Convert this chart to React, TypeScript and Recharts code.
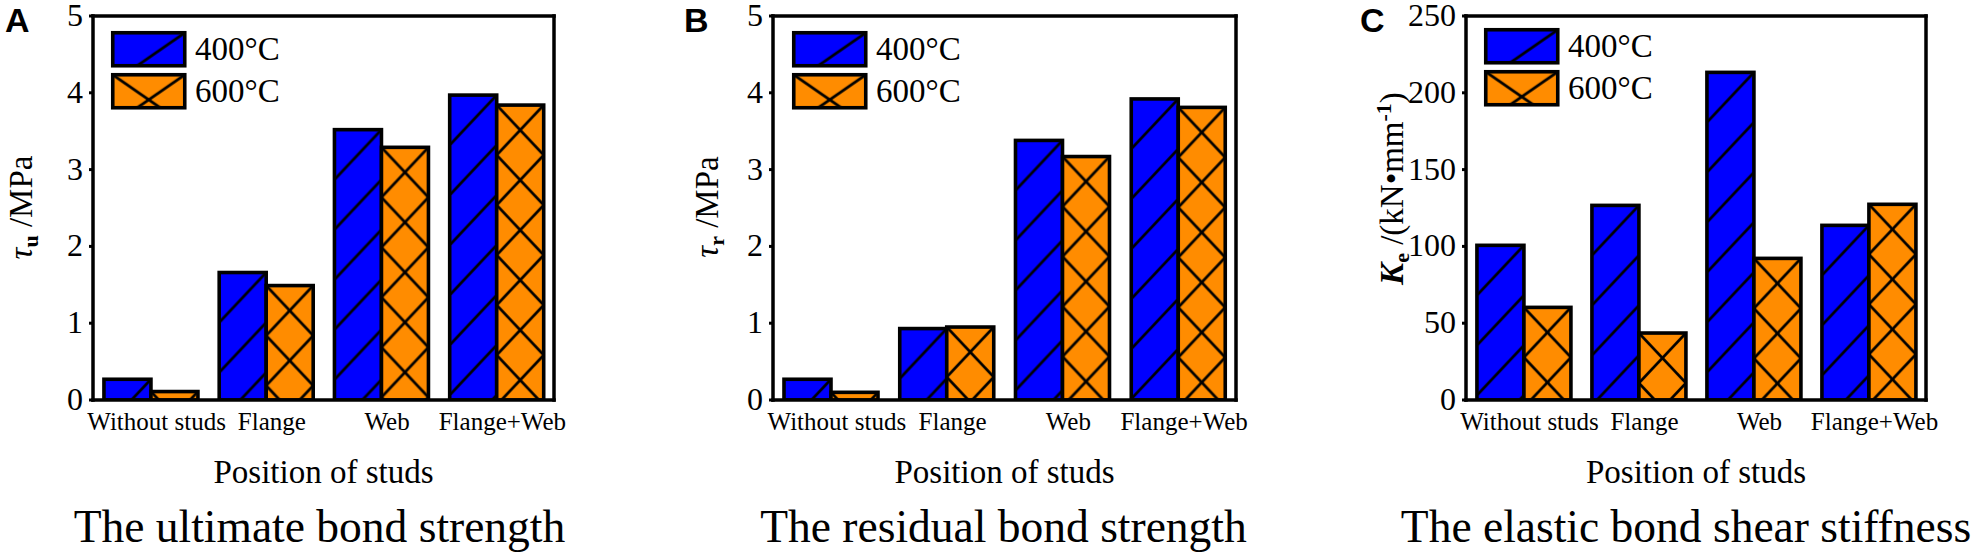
import React from "react";
import { BarChart, Bar, XAxis, YAxis, Legend, Label, CartesianGrid } from "recharts";

const categories = ["Without studs", "Flange", "Web", "Flange+Web"];
const seriesNames = ["400°C", "600°C"];

const ultimate400 = [0.27, 1.66, 3.52, 3.97];
const ultimate600 = [0.11, 1.49, 3.29, 3.84];
const residual400 = [0.27, 0.93, 3.38, 3.92];
const residual600 = [0.1, 0.95, 3.17, 3.81];
const stiffness400 = [100.7, 126.7, 213.3, 113.7];
const stiffness600 = [60.3, 43.6, 92.2, 127.4];

const strengthTicks = [0, 1, 2, 3, 4, 5];
const stiffnessTicks = [0, 50, 100, 150, 200, 250];

const titles = [
  "The ultimate bond strength",
  "The residual bond strength",
  "The elastic bond shear stiffness",
];
const xAxisTitle = "Position of studs";

const BLUE = "#0000ff";
const ORANGE = "#ff8c00";
const SERIF = "'Liberation Serif', 'Times New Roman', serif";
const SANS = "'Liberation Sans', Arial, sans-serif";
const serifStyle = { fontFamily: SERIF };
const axisStyle = { stroke: "#000", strokeWidth: 3.5, strokeLinecap: "square" as const };

function toRows(a: number[], b: number[]) {
  return categories.map((name, i) => ({ name, t400: a[i], t600: b[i] }));
}

// rectangle filled with a colour and a hatch tile that starts at its top-left corner
function HatchRect({ id, x, y, width, height, fill, cross }: any) {
  if (!width || !height || width <= 0 || height <= 0) return null;
  const w = width;
  const h = 50;
  const shifts = [-w, 0, w];
  return (
    <g>
      <defs>
        <pattern id={id} patternUnits="userSpaceOnUse" x={x} y={y} width={w} height={h}>
          <rect x={0} y={0} width={w} height={h} fill={fill} />
          {shifts.map((s) => (
            <line key={"a" + s} x1={s} y1={h} x2={s + w} y2={0} stroke="#000" strokeWidth={2.7} />
          ))}
          {cross &&
            shifts.map((s) => (
              <line key={"b" + s} x1={s} y1={0} x2={s + w} y2={h} stroke="#000" strokeWidth={2.7} />
            ))}
        </pattern>
      </defs>
      <rect x={x} y={y} width={w} height={height} fill={`url(#${id})`} stroke="#000" strokeWidth={3.6} />
    </g>
  );
}

function XTick({ x, y, payload }: any) {
  return (
    <text x={x + 6} y={y + 30} textAnchor="middle" style={serifStyle} fontSize={25} fill="#000">
      {payload.value}
    </text>
  );
}

function YTick({ x, y, payload }: any) {
  return (
    <text x={x} y={y + 10} textAnchor="end" style={serifStyle} fontSize={32} fill="#000">
      {payload.value}
    </text>
  );
}

function LegendBox({ pid }: { pid: string }) {
  return (
    <svg width={180} height={84} style={{ display: "block", overflow: "visible" }}>
      <HatchRect id={`${pid}-lg0`} x={1.75} y={1.75} width={72} height={33} fill={BLUE} cross={false} />
      <HatchRect id={`${pid}-lg1`} x={1.75} y={43.75} width={72} height={33} fill={ORANGE} cross={true} />
      <text x={84} y={29} style={serifStyle} fontSize={33} fill="#000">
        {seriesNames[0]}
      </text>
      <text x={84} y={71} style={serifStyle} fontSize={33} fill="#000">
        {seriesNames[1]}
      </text>
    </svg>
  );
}

function StrengthLabel({ sub }: { sub: string }) {
  return (
    <>
      <tspan fontStyle="italic">τ</tspan>
      <tspan dy={6} fontSize={22} fontWeight="bold">
        {sub}
      </tspan>
      <tspan dy={-6}> /MPa</tspan>
    </>
  );
}

function StiffnessLabel() {
  return (
    <>
      <tspan fontStyle="italic" fontWeight="bold">K</tspan>
      <tspan dy={6} fontSize={22} fontWeight="bold">e</tspan>
      <tspan dy={-6}> /(kN•mm</tspan>
      <tspan dy={-12} fontSize={22} fontWeight="bold">-1</tspan>
      <tspan dy={12}>)</tspan>
    </>
  );
}

function Panel(props: any) {
  const {
    pid, letter, left, width, yAxisWidth, marginRight, rows, domain, ticks,
    yLabel, yLabelX, yLabelY, letterX, title, titleShift, legendLeft, legendTop,
  } = props;
  const plotLeft = yAxisWidth;
  const plotRight = width - marginRight;
  const cx = (plotLeft + plotRight) / 2;

  return (
    <div style={{ position: "absolute", left, top: 0 }}>
      <BarChart
        width={width}
        height={555}
        data={rows}
        margin={{ top: 16, right: marginRight, bottom: 0, left: 0 }}
        barCategoryGap="9.5%"
        barGap={0}
      >
        {/* frame: top and right edges of the plot box */}
        <CartesianGrid
          stroke="#000"
          strokeWidth={3.5}
          strokeLinecap="square"
          horizontalCoordinatesGenerator={(g: any) => [g.offset.top]}
          verticalCoordinatesGenerator={(g: any) => [g.offset.left + g.offset.width]}
        />
        <XAxis
          dataKey="name"
          height={155}
          interval={0}
          tickLine={false}
          tickSize={0}
          tickMargin={0}
          axisLine={axisStyle}
          tick={(p: any) => <XTick {...p} />}
        >
          <Label
            content={() => (
              <g>
                <text x={cx} y={482.7} textAnchor="middle" style={serifStyle} fontSize={33} fill="#000">
                  {xAxisTitle}
                </text>
                <text x={cx + titleShift} y={542} textAnchor="middle" style={serifStyle} fontSize={45.5} fill="#000">
                  {title}
                </text>
              </g>
            )}
          />
        </XAxis>
        <YAxis
          width={yAxisWidth}
          domain={domain}
          ticks={ticks}
          interval={0}
          allowDataOverflow
          tickSize={4}
          tickMargin={6}
          tickLine={{ stroke: "#000", strokeWidth: 3 }}
          axisLine={axisStyle}
          tick={(p: any) => <YTick {...p} />}
        >
          <Label
            content={() => (
              <g>
                <text x={letterX} y={31.7} style={{ fontFamily: SANS }} fontWeight="bold" fontSize={34} fill="#000">
                  {letter}
                </text>
                <text
                  x={yLabelX}
                  y={yLabelY}
                  textAnchor="middle"
                  style={serifStyle}
                  fontSize={33}
                  fill="#000"
                  transform={`rotate(-90, ${yLabelX}, ${yLabelY})`}
                >
                  {yLabel}
                </text>
              </g>
            )}
          />
        </YAxis>
        <Legend
          layout="horizontal"
          verticalAlign="middle"
          align="center"
          content={() => <LegendBox pid={pid} />}
          wrapperStyle={{ left: legendLeft, top: legendTop, width: "auto", height: "auto" }}
        />
        <Bar
          dataKey="t400"
          name={seriesNames[0]}
          fill={BLUE}
          isAnimationActive={false}
          shape={(p: any) => (
            <HatchRect id={`${pid}-s0-${p.index}`} x={p.x} y={p.y} width={p.width} height={p.height} fill={BLUE} cross={false} />
          )}
        />
        <Bar
          dataKey="t600"
          name={seriesNames[1]}
          fill={ORANGE}
          isAnimationActive={false}
          shape={(p: any) => (
            <HatchRect id={`${pid}-s1-${p.index}`} x={p.x} y={p.y} width={p.width} height={p.height} fill={ORANGE} cross={true} />
          )}
        />
      </BarChart>
    </div>
  );
}

export default function App() {
  return (
    <div style={{ position: "relative", width: 1976, height: 555, background: "#fff", overflow: "hidden" }}>
      <style>{"body{margin:0}"}</style>

      <Panel
        pid="pa"
        letter="A"
        left={0}
        width={600}
        yAxisWidth={93}
        marginRight={46}
        rows={toRows(ultimate400, ultimate600)}
        domain={[0, 5]}
        ticks={strengthTicks}
        yLabel={<StrengthLabel sub="u" />}
        yLabelX={31.5}
        yLabelY={207.5}
        letterX={5}
        title={titles[0]}
        titleShift={-4}
        legendLeft={111}
        legendTop={31}
      />

      <Panel
        pid="pb"
        letter="B"
        left={650}
        width={610}
        yAxisWidth={123}
        marginRight={24}
        rows={toRows(residual400, residual600)}
        domain={[0, 5]}
        ticks={strengthTicks}
        yLabel={<StrengthLabel sub="r" />}
        yLabelX={68}
        yLabelY={207}
        letterX={34}
        title={titles[1]}
        titleShift={-1}
        legendLeft={142}
        legendTop={31}
      />

      <Panel
        pid="pc"
        letter="C"
        left={1310}
        width={666}
        yAxisWidth={156}
        marginRight={50}
        rows={toRows(stiffness400, stiffness600)}
        domain={[0, 250]}
        ticks={stiffnessTicks}
        yLabel={<StiffnessLabel />}
        yLabelX={93}
        yLabelY={188.5}
        letterX={50}
        title={titles[2]}
        titleShift={-10}
        legendLeft={174}
        legendTop={28}
      />
    </div>
  );
}
